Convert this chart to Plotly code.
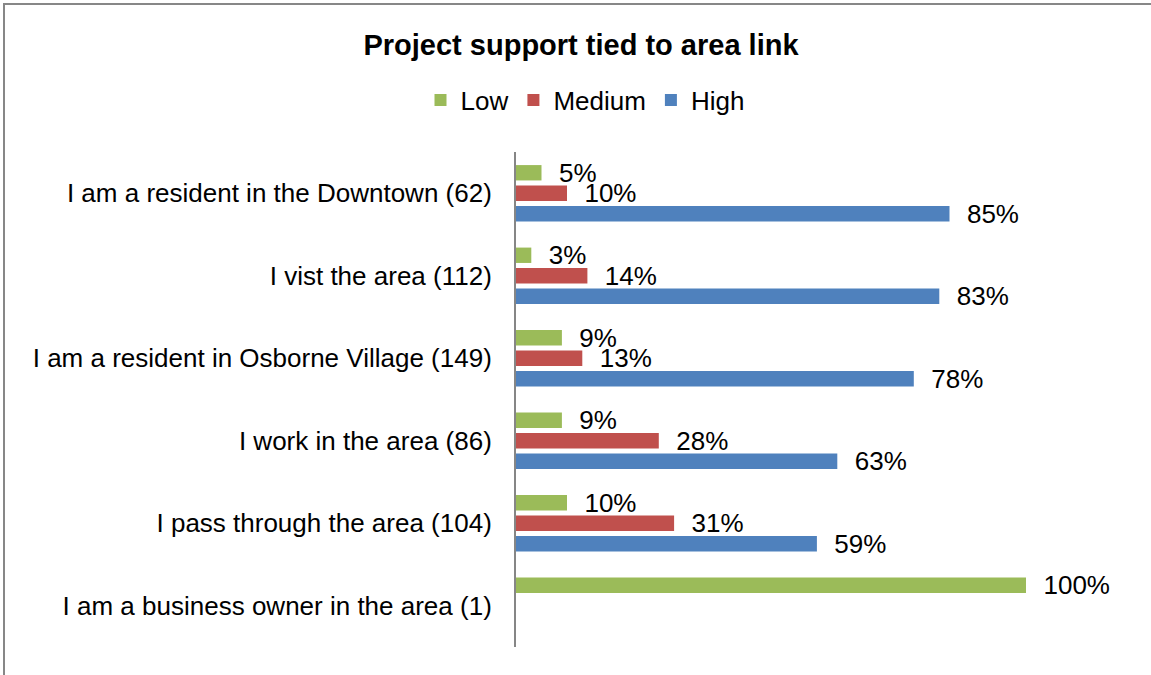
import plotly.graph_objects as go

# Survey groups (respondent count in brackets), listed top to bottom
categories = [
    "I am a resident in the Downtown (62)",
    "I vist the area (112)",
    "I am a resident in Osborne Village (149)",
    "I work in the area (86)",
    "I pass through the area (104)",
    "I am a business owner in the area (1)",
]

# Share of respondents (%) by level of support
low = [5, 3, 9, 9, 10, 100]
medium = [10, 14, 13, 28, 31, None]
high = [85, 83, 78, 63, 59, None]

series = [
    ("Low", low, "#9BBB59"),
    ("Medium", medium, "#C0504D"),
    ("High", high, "#4F81BD"),
]

FONT = "Liberation Sans, Arial, sans-serif"

fig = go.Figure()
for name, values, color in series:
    fig.add_trace(go.Bar(
        name=name,
        y=categories,
        x=values,
        orientation="h",
        marker=dict(color=color, line=dict(width=0)),
        texttemplate="\u00a0\u00a0%{x}%",
        textposition="outside",
        constraintext="none",
        cliponaxis=False,
        textfont=dict(family=FONT, size=26, color="#000000"),
        hoverinfo="skip",
    ))

# Outer chart frame (extends past the right and bottom edges)
fig.add_shape(
    type="rect", xref="paper", yref="paper",
    x0=(4 - 516) / 612, x1=(1170 - 516) / 612,
    y0=(647 - 690) / 495, y1=(647 - 4) / 495,
    line=dict(color="#878787", width=2), fillcolor="rgba(0,0,0,0)",
    layer="below",
)

fig.update_layout(
    width=1151,
    height=675,
    paper_bgcolor="white",
    plot_bgcolor="white",
    margin=dict(l=516, r=23, t=152, b=28),
    barmode="group",
    bargap=0.255,
    bargroupgap=0.25,
    font=dict(family=FONT, size=26, color="#000000"),
    title=dict(
        text="<b>Project support tied to area link</b>",
        font=dict(family=FONT, size=29, color="#000000"),
        xref="container", yref="container",
        x=581 / 1151, xanchor="center",
        y=1 - 45 / 675, yanchor="middle",
    ),
    legend=dict(
        orientation="h",
        xref="container", yref="container",
        x=585 / 1151, xanchor="center",
        y=1 - 100 / 675, yanchor="middle",
        font=dict(family=FONT, size=26, color="#000000"),
        itemwidth=30,
        traceorder="normal",
    ),
    xaxis=dict(
        range=[0, 120],
        showgrid=False,
        zeroline=False,
        showline=False,
        showticklabels=False,
        ticks="",
        fixedrange=True,
    ),
    yaxis=dict(
        autorange="reversed",
        showgrid=False,
        zeroline=False,
        showline=True,
        linecolor="#868686",
        linewidth=2,
        ticks="",
        ticklabelstandoff=17,
        tickfont=dict(family=FONT, size=26, color="#000000"),
        fixedrange=True,
    ),
    showlegend=True,
)

fig.write_html("out.html")
